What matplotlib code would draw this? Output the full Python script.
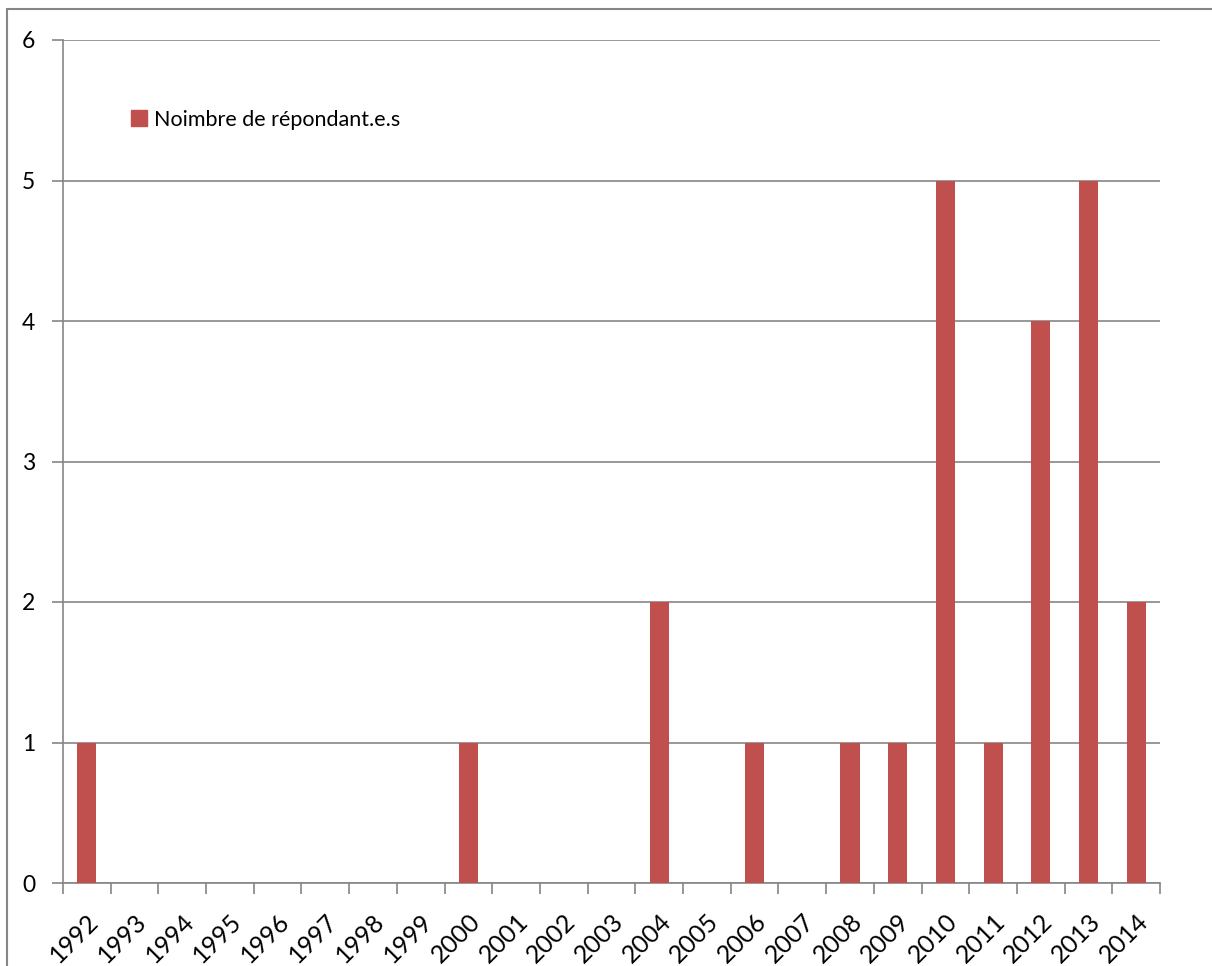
import matplotlib.pyplot as plt
from matplotlib.patches import Rectangle
from matplotlib.lines import Line2D

years = [str(y) for y in range(1992, 2015)]
counts = [1, 0, 0, 0, 0, 0, 0, 0, 1, 0, 0, 0, 2, 0, 1, 0, 1, 1, 5, 1, 4, 5, 2]
series_name = 'Noimbre de répondant.e.s'

plt.rcParams['font.family'] = ['Lato', 'DejaVu Sans']
bar_color = '#c0504d'
grid_color = '#868686'
fs = 15.5

fig = plt.figure(figsize=(12.12, 9.66), dpi=100)
ax = fig.add_axes([63 / 1212, 1 - 883 / 966, (1160 - 63) / 1212, (883 - 40) / 966])

x = list(range(len(years)))
ax.bar(x, counts, width=0.4, color=bar_color, zorder=3)

ax.set_xlim(-0.5, len(years) - 0.5)
ax.set_ylim(0, 6)
ax.set_yticks(range(0, 7))
ax.yaxis.grid(True, color=grid_color, linewidth=1.2, zorder=0)

# category labels under the bars, tick marks between categories
ax.set_xticks(x)
ax.set_xticklabels(years, rotation=45, ha='right', va='top', rotation_mode='anchor', fontsize=18)
ax.tick_params(axis='x', which='major', length=0, pad=19)
ax.set_xticks([i - 0.5 for i in range(len(years) + 1)], minor=True)
ax.tick_params(axis='x', which='minor', length=8, width=1.2, color=grid_color)
ax.tick_params(axis='y', length=8, width=1.2, color=grid_color, labelsize=16.5, pad=12)

for s in ['top', 'right']:
    ax.spines[s].set_visible(False)
for s in ['left', 'bottom']:
    ax.spines[s].set_color(grid_color)
    ax.spines[s].set_linewidth(1.2)

handle = Line2D([], [], marker='s', linestyle='none', markersize=11,
                markerfacecolor=bar_color, markeredgecolor=bar_color)
ax.legend([handle], [series_name], loc='upper left', bbox_to_anchor=(0.042, 0.94),
          frameon=False, fontsize=fs, handletextpad=0.2, handlelength=1.0)

# chart area border
fig.patches.append(Rectangle((7 / 1212, -0.01), 1.02, 1 - 9 / 966 + 0.01,
                             transform=fig.transFigure, fill=False,
                             edgecolor=grid_color, linewidth=1.5))

fig.savefig('out.png', dpi=100)
